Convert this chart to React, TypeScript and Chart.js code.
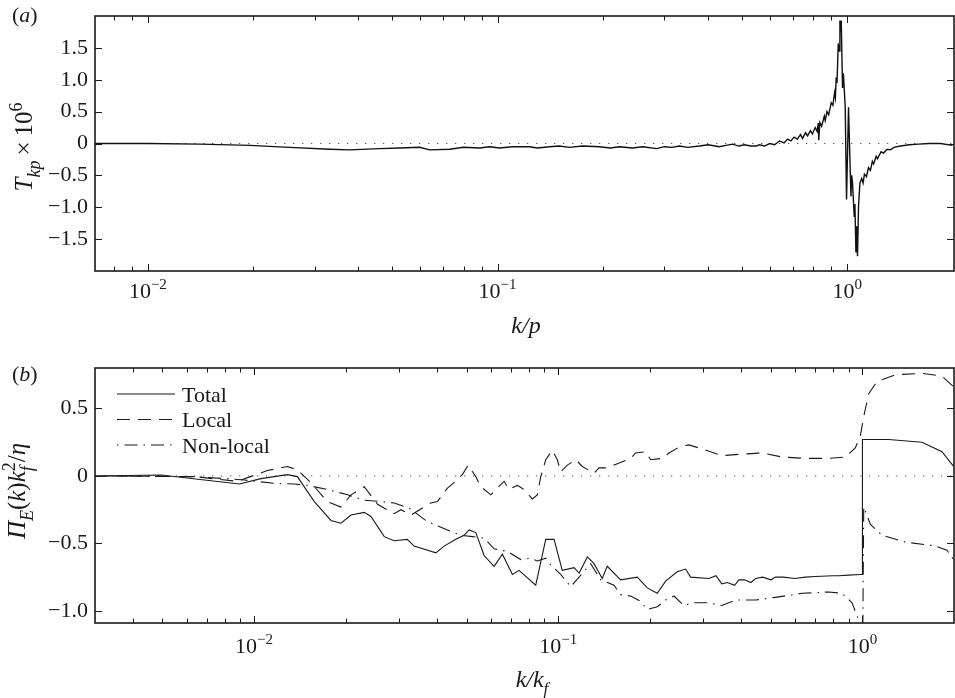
import React, { useEffect, useRef } from 'react';
import { Chart, registerables } from 'chart.js';

Chart.register(...registerables);

const SERIF = "'Liberation Serif', 'Times New Roman', 'DejaVu Serif', serif";
const INK = '#1a1a1a';

// ---------------- panel (a): T_kp x 10^6 vs k/p ----------------
const tkpK = [
  0.00706, 0.01, 0.01408, 0.01956, 0.02544, 0.03311, 0.03777, 0.04601, 0.05248, 0.05985,
  0.06391, 0.07291, 0.08, 0.08883, 0.095, 0.1013, 0.11, 0.1234, 0.13, 0.1408,
  0.15, 0.1606, 0.175, 0.1955, 0.21, 0.2232, 0.243, 0.26, 0.285, 0.3,
  0.315, 0.3311, 0.35, 0.378, 0.4, 0.4308, 0.45, 0.47, 0.49, 0.508,
  0.53, 0.5495, 0.56, 0.58, 0.6, 0.62, 0.64, 0.66, 0.675, 0.69,
  0.705, 0.72, 0.735, 0.745, 0.76, 0.77, 0.785, 0.795, 0.81, 0.82,
  0.8264, 0.829, 0.835, 0.845, 0.86, 0.865, 0.875, 0.885, 0.9, 0.91,
  0.92, 0.925, 0.9302, 0.935, 0.9425, 0.948, 0.953, 0.957, 0.9613, 0.9696,
  0.975, 0.9869, 0.9954, 1.0086, 1.0247, 1.03, 1.0355, 1.0471, 1.052, 1.0589,
  1.064, 1.0701, 1.0772, 1.0872, 1.1, 1.11, 1.12, 1.135, 1.15, 1.165,
  1.18, 1.19, 1.21, 1.22, 1.25, 1.27, 1.3, 1.33, 1.36, 1.42,
  1.504, 1.6, 1.715, 1.85, 2.0,
];
const tkpVal = [
  0, 0, -0.01, -0.03, -0.06, -0.09, -0.1, -0.08, -0.07, -0.06,
  -0.1, -0.09, -0.06, -0.07, -0.05, -0.07, -0.05, -0.05, -0.07, -0.05,
  -0.04, -0.06, -0.04, -0.05, -0.07, -0.05, -0.07, -0.05, -0.08, -0.05,
  -0.06, -0.04, -0.06, -0.04, -0.02, -0.05, -0.03, -0.01, -0.04, -0.02,
  -0.04, -0.04, -0.02, -0.04, 0.0, -0.02, 0.04, 0.01, 0.07, 0.04,
  0.1, 0.07, 0.14, 0.08, 0.17, 0.12, 0.2, 0.15, 0.25, 0.19,
  0.32, 0.05, 0.33, 0.27, 0.43, 0.36, 0.5, 0.45, 0.64, 0.6,
  0.8, 0.72, 1.04, 0.95, 1.57, 1.45, 1.93, 1.75, 1.93, 0.87,
  1.1, 0.57, -0.88, 0.57, -0.83, -0.5, -0.62, -1.14, -0.95, -1.71,
  -1.3, -1.77, -0.99, -0.62, -0.55, -0.62, -0.48, -0.52, -0.38, -0.42,
  -0.28, -0.32, -0.2, -0.24, -0.13, -0.15, -0.09, -0.1, -0.06, -0.04,
  -0.02, -0.01, 0.0, 0.0, -0.03,
];
const xRangeA = [0.00706, 2.02];
const yRangeA = [-2, 2];
const yTicksA = [-1.5, -1, -0.5, 0, 0.5, 1, 1.5];

// ---------------- panel (b): Pi_E(k) k_f^2 / eta vs k/k_f ----------------
const totalK = [
  0.00299, 0.00495, 0.00687, 0.00895, 0.01054, 0.01287, 0.01388, 0.01578, 0.0179, 0.0193,
  0.02083, 0.02303, 0.02422, 0.02679, 0.02889, 0.03188, 0.0336, 0.03961, 0.04217, 0.04606,
  0.04904, 0.05094, 0.05358, 0.05705, 0.06154, 0.06553, 0.07068, 0.07434, 0.08433, 0.09097,
  0.09687, 0.1031, 0.1127, 0.1171, 0.1247, 0.1311, 0.1395, 0.1449, 0.1604, 0.1819,
  0.1962, 0.2116, 0.2254, 0.2461, 0.2622, 0.2723, 0.3128, 0.33, 0.345, 0.36,
  0.38, 0.3925, 0.41, 0.43, 0.4453, 0.47, 0.5, 0.5179, 0.55, 0.6,
  0.6497, 0.7, 0.8, 0.836, 0.9, 0.9849, 0.9995, 1.0, 1.22, 1.569,
  1.826, 1.994,
];
const totalVal = [
  0, 0.007, -0.03, -0.06, -0.02, 0.01, -0.005, -0.19, -0.33, -0.35,
  -0.29, -0.27, -0.3, -0.45, -0.48, -0.47, -0.52, -0.57, -0.52, -0.47,
  -0.44, -0.4, -0.42, -0.59, -0.67, -0.58, -0.73, -0.7, -0.81, -0.47,
  -0.47, -0.7, -0.68, -0.72, -0.6, -0.65, -0.76, -0.67, -0.77, -0.75,
  -0.83, -0.87, -0.78, -0.71, -0.69, -0.75, -0.76, -0.74, -0.8, -0.79,
  -0.81, -0.77, -0.77, -0.79, -0.76, -0.75, -0.77, -0.75, -0.75, -0.76,
  -0.75, -0.745, -0.74, -0.74, -0.735, -0.73, -0.73, 0.27, 0.27, 0.25,
  0.18, 0.07,
];
const localK = [
  0.00299, 0.00637, 0.00882, 0.01106, 0.01287, 0.01388, 0.01539, 0.0174, 0.0193, 0.02083,
  0.02303, 0.02546, 0.02889, 0.0304, 0.03278, 0.03814, 0.04009, 0.04324, 0.04547, 0.04842,
  0.05055, 0.05358, 0.05565, 0.06002, 0.06233, 0.06637, 0.06893, 0.07339, 0.0772, 0.08219,
  0.08536, 0.0876, 0.09097, 0.09563, 0.09931, 0.1019, 0.1071, 0.1142, 0.12, 0.1311,
  0.1361, 0.1449, 0.1563, 0.173, 0.1797, 0.1938, 0.2013, 0.2197, 0.2312, 0.2525,
  0.2689, 0.2972, 0.345, 0.3925, 0.4681, 0.5445, 0.6497, 0.7751, 0.8794, 0.9484,
  0.9849, 1.0099, 1.0488, 1.117, 1.284, 1.569, 1.826, 1.994,
];
const localVal = [
  0, -0.005, -0.04, 0.04, 0.07, 0.045, -0.05, -0.19, -0.23, -0.14,
  -0.08, -0.21, -0.28, -0.25, -0.29, -0.2, -0.19, -0.09, -0.05, 0.01,
  0.08, -0.005, -0.08, -0.14, -0.1, -0.04, -0.1, -0.07, -0.1, -0.17,
  -0.14, -0.005, 0.12, 0.19, 0.12, 0.03, 0.08, 0.12, 0.07, 0.02,
  0.06, 0.06, 0.09, 0.13, 0.17, 0.18, 0.12, 0.13, 0.17, 0.22,
  0.23, 0.2, 0.15, 0.16, 0.17, 0.14, 0.13, 0.13, 0.14, 0.21,
  0.3, 0.44, 0.61, 0.7, 0.75, 0.76, 0.74, 0.66,
];
const nonlocalK = [
  0.00299, 0.00637, 0.00929, 0.01166, 0.01357, 0.015, 0.0174, 0.0203, 0.02303, 0.02613,
  0.02889, 0.0324, 0.0367, 0.0391, 0.04324, 0.04783, 0.05222, 0.05705, 0.06154, 0.06805,
  0.0753, 0.08121, 0.08536, 0.09097, 0.09449, 0.1019, 0.1099, 0.1171, 0.1278, 0.1379,
  0.1525, 0.1604, 0.173, 0.1866, 0.1962, 0.2116, 0.2254, 0.2401, 0.2589, 0.2757,
  0.3128, 0.345, 0.3827, 0.4453, 0.5179, 0.6332, 0.7751, 0.857, 0.9244, 0.9723,
  0.9995, 1.0099, 1.0624, 1.16, 1.384, 1.737, 1.896, 1.994,
];
const nonlocalVal = [
  0, -0.005, -0.03, -0.055, -0.06, -0.07, -0.1, -0.14, -0.18, -0.19,
  -0.2, -0.24, -0.33, -0.36, -0.4, -0.44, -0.45, -0.46, -0.54, -0.56,
  -0.62, -0.61, -0.63, -0.61, -0.66, -0.73, -0.82, -0.75, -0.65, -0.77,
  -0.81, -0.88, -0.89, -0.93, -0.99, -0.97, -0.92, -0.89, -0.96, -0.94,
  -0.94, -0.96, -0.92, -0.92, -0.9, -0.87, -0.86, -0.87, -0.94, -1.07,
  -1.6, -0.23, -0.36, -0.44, -0.49, -0.52, -0.55, -0.62,
];
const xRangeB = [0.003, 2.0];
const yRangeB = [-1.09, 0.8];
const yTicksB = [-1, -0.5, 0, 0.5];

// log-axis decorations
const xMajor = [0.01, 0.1, 1];
const xMajorExp = ['\u22122', '\u22121', '0'];
const decades = [0.001, 0.01, 0.1, 1];
const mults = [1, 2, 3, 4, 5, 6, 7, 8, 9];

type Seg = { t: string; it?: boolean; sub?: boolean; sup?: boolean; hold?: boolean };

function drawRich(
  ctx: CanvasRenderingContext2D,
  segs: Seg[],
  x: number,
  y: number,
  size: number,
  rotate = false,
  align: 'center' | 'left' = 'center'
) {
  const fontOf = (s: Seg) =>
    `${s.it ? 'italic ' : ''}${s.sub || s.sup ? Math.round(size * 0.7) : size}px ${SERIF}`;
  const pos: number[] = [];
  let cur = 0;
  let held = 0;
  for (const s of segs) {
    ctx.font = fontOf(s);
    const w = ctx.measureText(s.t).width;
    pos.push(cur);
    if (s.hold) held = w;
    else {
      cur += Math.max(w, held);
      held = 0;
    }
  }
  ctx.save();
  ctx.translate(x, y);
  if (rotate) ctx.rotate(-Math.PI / 2);
  const x0 = align === 'left' ? 0 : -cur / 2;
  ctx.textBaseline = 'alphabetic';
  ctx.textAlign = 'left';
  ctx.fillStyle = INK;
  segs.forEach((s, i) => {
    ctx.font = fontOf(s);
    const dy = s.sub ? size * 0.3 : s.sup ? -size * 0.42 : 0;
    ctx.fillText(s.t, x0 + pos[i], dy);
  });
  ctx.restore();
}

function fmtY(v: number) {
  if (v === 0) return '0';
  return (v < 0 ? '\u2212' : '') + Math.abs(v).toFixed(1);
}

interface PanelCfg {
  id: string;
  xMin: number;
  xMax: number;
  yTicks: number[];
  tag: string;
  tagY: number;
  xTitle: Seg[];
  xTitleDy: number;
  xTitleX: number;
  xLabelDy: number;
  yTitle: Seg[];
  yTitleX: number;
  yTitleY: number;
  legend: boolean;
}

function decoPlugin(p: PanelCfg) {
  return {
    id: 'deco' + p.id,
    afterDatasetsDraw(chart: any) {
      const ctx: CanvasRenderingContext2D = chart.ctx;
      const a = chart.chartArea;
      const xs = chart.scales.x;
      const ys = chart.scales.y;
      ctx.save();
      ctx.strokeStyle = INK;
      ctx.beginPath();
      for (const d of decades) {
        for (const m of mults) {
          const v = d * m;
          if (v < p.xMin * 1.01 || v > p.xMax * 0.99) continue;
          const px = Math.round(xs.getPixelForValue(v)) + 0.5;
          const len = m === 1 ? 7 : 4.5;
          ctx.moveTo(px, a.bottom);
          ctx.lineTo(px, a.bottom - len);
          ctx.moveTo(px, a.top);
          ctx.lineTo(px, a.top + len);
        }
      }
      for (const v of p.yTicks) {
        const py = Math.round(ys.getPixelForValue(v)) + 0.5;
        ctx.moveTo(a.left, py);
        ctx.lineTo(a.left + 7, py);
        ctx.moveTo(a.right, py);
        ctx.lineTo(a.right - 7, py);
      }
      ctx.lineWidth = 1;
      ctx.stroke();
      ctx.lineWidth = 1.6;
      ctx.strokeRect(a.left, a.top, a.right - a.left, a.bottom - a.top);

      // y tick labels
      ctx.fillStyle = INK;
      ctx.font = `22px ${SERIF}`;
      ctx.textAlign = 'right';
      ctx.textBaseline = 'middle';
      for (const v of p.yTicks) {
        ctx.fillText(fmtY(v), a.left - 7, ys.getPixelForValue(v));
      }
      // x tick labels
      xMajor.forEach((v, i) => {
        const px = xs.getPixelForValue(v);
        drawRich(ctx, [{ t: '10' }, { t: xMajorExp[i], sup: true }], px, a.bottom + p.xLabelDy, 22);
      });
      // titles
      drawRich(ctx, p.xTitle, p.xTitleX, a.bottom + p.xTitleDy, 24);
      drawRich(ctx, p.yTitle, p.yTitleX, p.yTitleY, 25, true);
      drawRich(ctx, [{ t: '(' }, { t: p.tag, it: true }, { t: ')' }], 12, p.tagY, 22, false, 'left');

      // legend
      if (p.legend) {
        const ds = chart.data.datasets.filter((d: any) => d.label && d.label !== 'zero');
        ds.forEach((d: any, i: number) => {
          const y = a.top + 26 + i * 25.5;
          ctx.save();
          ctx.strokeStyle = d.borderColor;
          ctx.lineWidth = d.borderWidth;
          ctx.setLineDash(d.borderDash || []);
          ctx.beginPath();
          ctx.moveTo(a.left + 22, y);
          ctx.lineTo(a.left + 80, y);
          ctx.stroke();
          ctx.restore();
          ctx.fillStyle = INK;
          ctx.font = `22px ${SERIF}`;
          ctx.textAlign = 'left';
          ctx.textBaseline = 'alphabetic';
          ctx.fillText(d.label, a.left + 87, y + 7.5);
        });
      }
      ctx.restore();
    },
  };
}

const toPts = (ks: number[], vs: number[]) => ks.map((k, i) => ({ x: k, y: vs[i] }));

function makeConfig(
  p: PanelCfg,
  datasets: any[],
  xr: number[],
  yr: number[],
  padTop: number,
  xAxisH: number
): any {
  return {
    type: 'line',
    data: {
      datasets: [
        {
          label: 'zero',
          data: [
            { x: xr[0], y: 0 },
            { x: xr[1], y: 0 },
          ],
          borderColor: '#555',
          borderWidth: 1,
          borderDash: [1.3, 7.7],
          pointRadius: 0,
          order: 5,
        },
        ...datasets,
      ],
    },
    options: {
      responsive: false,
      maintainAspectRatio: false,
      animation: false,
      layout: { padding: { left: 0, right: 1, top: padTop, bottom: 0 } },
      plugins: { legend: { display: false }, tooltip: { enabled: false } },
      elements: { line: { tension: 0 }, point: { radius: 0 } },
      scales: {
        x: {
          type: 'logarithmic',
          min: xr[0],
          max: xr[1],
          grid: { display: false },
          border: { display: false },
          ticks: { display: false },
          afterFit: (s: any) => {
            s.height = xAxisH;
          },
        },
        y: {
          type: 'linear',
          min: yr[0],
          max: yr[1],
          grid: { display: false },
          border: { display: false },
          ticks: { display: false },
          afterFit: (s: any) => {
            s.width = 95;
          },
        },
      },
    },
    plugins: [decoPlugin(p)],
  };
}

const panelA: PanelCfg = {
  id: 'a',
  xMin: xRangeA[0],
  xMax: xRangeA[1],
  yTicks: yTicksA,
  tag: 'a',
  tagY: 22,
  xTitle: [{ t: 'k/p', it: true }],
  xTitleDy: 62,
  xTitleX: 526,
  xLabelDy: 27,
  yTitle: [
    { t: 'T', it: true },
    { t: 'kp', it: true, sub: true },
    { t: '\u2009\u00d7\u200910' },
    { t: '6', sup: true },
  ],
  yTitleX: 32,
  yTitleY: 147,
  legend: false,
};

const panelB: PanelCfg = {
  id: 'b',
  xMin: xRangeB[0],
  xMax: xRangeB[1],
  yTicks: yTicksB,
  tag: 'b',
  tagY: 36,
  xTitle: [{ t: 'k/k', it: true }, { t: 'f', it: true, sub: true }],
  xTitleDy: 64,
  xTitleX: 532,
  xLabelDy: 30,
  yTitle: [
    { t: '\u03a0', it: true },
    { t: 'E', it: true, sub: true },
    { t: '(' },
    { t: 'k', it: true },
    { t: ')' },
    { t: 'k', it: true },
    { t: 'f', it: true, sub: true, hold: true },
    { t: '2', sup: true },
    { t: '/' },
    { t: '\u03b7', it: true },
  ],
  yTitleX: 25,
  yTitleY: 146,
  legend: true,
};

export default function App() {
  const refA = useRef<HTMLCanvasElement>(null);
  const refB = useRef<HTMLCanvasElement>(null);

  useEffect(() => {
    const chartA = new Chart(
      refA.current as HTMLCanvasElement,
      makeConfig(
        panelA,
        [
          {
            label: 'T',
            data: toPts(tkpK, tkpVal),
            borderColor: '#111',
            borderWidth: 1.4,
            pointRadius: 0,
            order: 1,
          },
        ],
        xRangeA,
        yRangeA,
        16,
        345 - 271
      )
    );
    const chartB = new Chart(
      refB.current as HTMLCanvasElement,
      makeConfig(
        panelB,
        [
          {
            label: 'Total',
            data: toPts(totalK, totalVal),
            borderColor: '#1a1a1a',
            borderWidth: 1.1,
            pointRadius: 0,
            order: 1,
          },
          {
            label: 'Local',
            data: toPts(localK, localVal),
            borderColor: '#1a1a1a',
            borderWidth: 1.1,
            borderDash: [13, 8],
            pointRadius: 0,
            order: 2,
          },
          {
            label: 'Non-local',
            data: toPts(nonlocalK, nonlocalVal),
            borderColor: '#1a1a1a',
            borderWidth: 1.1,
            borderDash: [1.5, 6, 13, 6],
            pointRadius: 0,
            order: 3,
          },
        ],
        xRangeB,
        yRangeB,
        23,
        353 - 278
      )
    );
    return () => {
      chartA.destroy();
      chartB.destroy();
    };
  }, []);

  return (
    <div style={{ position: 'absolute', left: 0, top: 0, width: 955, height: 698, background: '#fff' }}>
      <canvas ref={refA} width={955} height={345} style={{ position: 'absolute', left: 0, top: 0 }} />
      <canvas ref={refB} width={955} height={353} style={{ position: 'absolute', left: 0, top: 345 }} />
    </div>
  );
}
